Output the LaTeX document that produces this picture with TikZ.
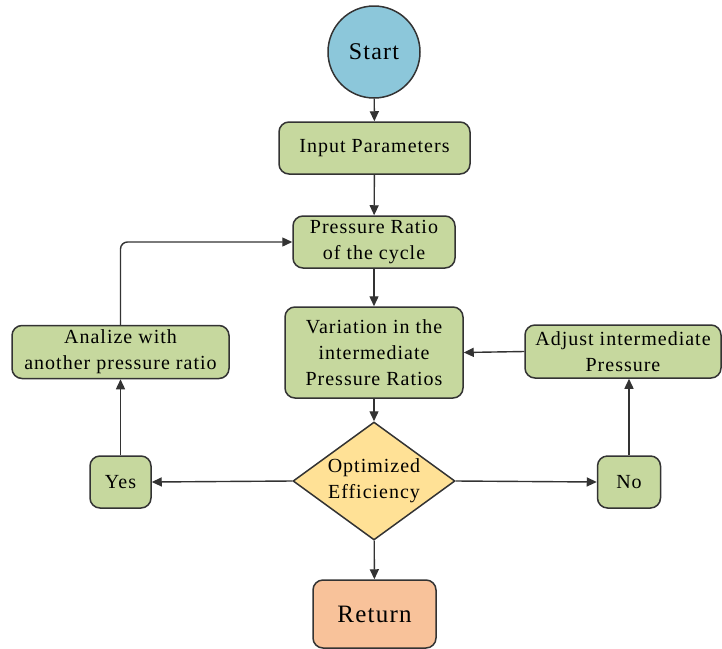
\documentclass[tikz,border=0pt]{standalone}
\usepackage{fontspec}
\setmainfont[LetterSpace=5]{Liberation Serif}
\usetikzlibrary{shapes.geometric,arrows.meta}
\definecolor{cstart}{HTML}{8CC7DA}
\definecolor{cgreen}{HTML}{C6D89E}
\definecolor{cyel}{HTML}{FFE196}
\definecolor{cret}{HTML}{F8C29A}
\definecolor{cline}{HTML}{333333}
\begin{document}
\begin{tikzpicture}[x=1pt,y=-1pt,
  box/.style={draw=cline, line width=1.5pt, rounded corners=10pt, fill=cgreen, align=center, inner sep=0pt,
     font=\fontsize{20}{26}\selectfont},
  conn/.style={draw=cline, line width=1.4pt, -{Triangle[length=10pt,width=9pt]}}
]
\useasboundingbox (0,0) rectangle (722,648);
\node[circle, draw=cline, line width=1.5pt, fill=cstart, minimum size=92pt, inner sep=0pt, font=\fontsize{24}{28}\selectfont] (start) at (374,52) {Start};
\node[box, minimum width=191pt, minimum height=52pt] (inp) at (374.5,148) {Input Parameters};
\node[box, minimum width=162pt, minimum height=52pt] (pr) at (374,242) {Pressure Ratio\\of the cycle};
\node[box, minimum width=178pt, minimum height=91pt] (var) at (374,352.5) {Variation in the\\intermediate\\Pressure Ratios};
\node[box, minimum width=217pt, minimum height=53pt] (ana) at (120.5,352) {Analize with\\another pressure ratio};
\node[box, minimum width=196pt, minimum height=53pt] (adj) at (623,351.5) {Adjust intermediate\\Pressure};
\node[diamond, draw=cline, line width=1.5pt, fill=cyel, minimum width=162pt, minimum height=118pt, inner sep=0pt] (dec) at (374,481) {};
\node[align=center, font=\fontsize{20}{26}\selectfont, inner sep=0pt] (dect) at (dec.center) {Optimized\\Efficiency};
\node[box, minimum width=61pt, minimum height=52pt] (yes) at (120.5,482) {Yes};
\node[box, minimum width=63pt, minimum height=52pt] (no) at (629,482) {No};
\node[box, fill=cret, minimum width=123pt, minimum height=68pt, font=\fontsize{25}{28}\selectfont] (ret) at (374.5,614) {Return};

\draw[conn] (start) -- (inp);
\draw[conn] (inp) -- (pr);
\draw[conn] (pr) -- (var);
\draw[conn] (var) -- (dec);
\draw[conn] (dec) -- (ret);
\draw[conn] (dec.west) -- (yes.east);
\draw[conn] (dec.east) -- (no.west);
\draw[conn] (yes) -- (ana);
\draw[conn] (no.north) -- (no.north |- adj.south);
\draw[conn] (adj.west) -- (var.east);
\draw[conn, rounded corners=7pt] (ana.north) |- (pr.west);
\end{tikzpicture}
\end{document}
